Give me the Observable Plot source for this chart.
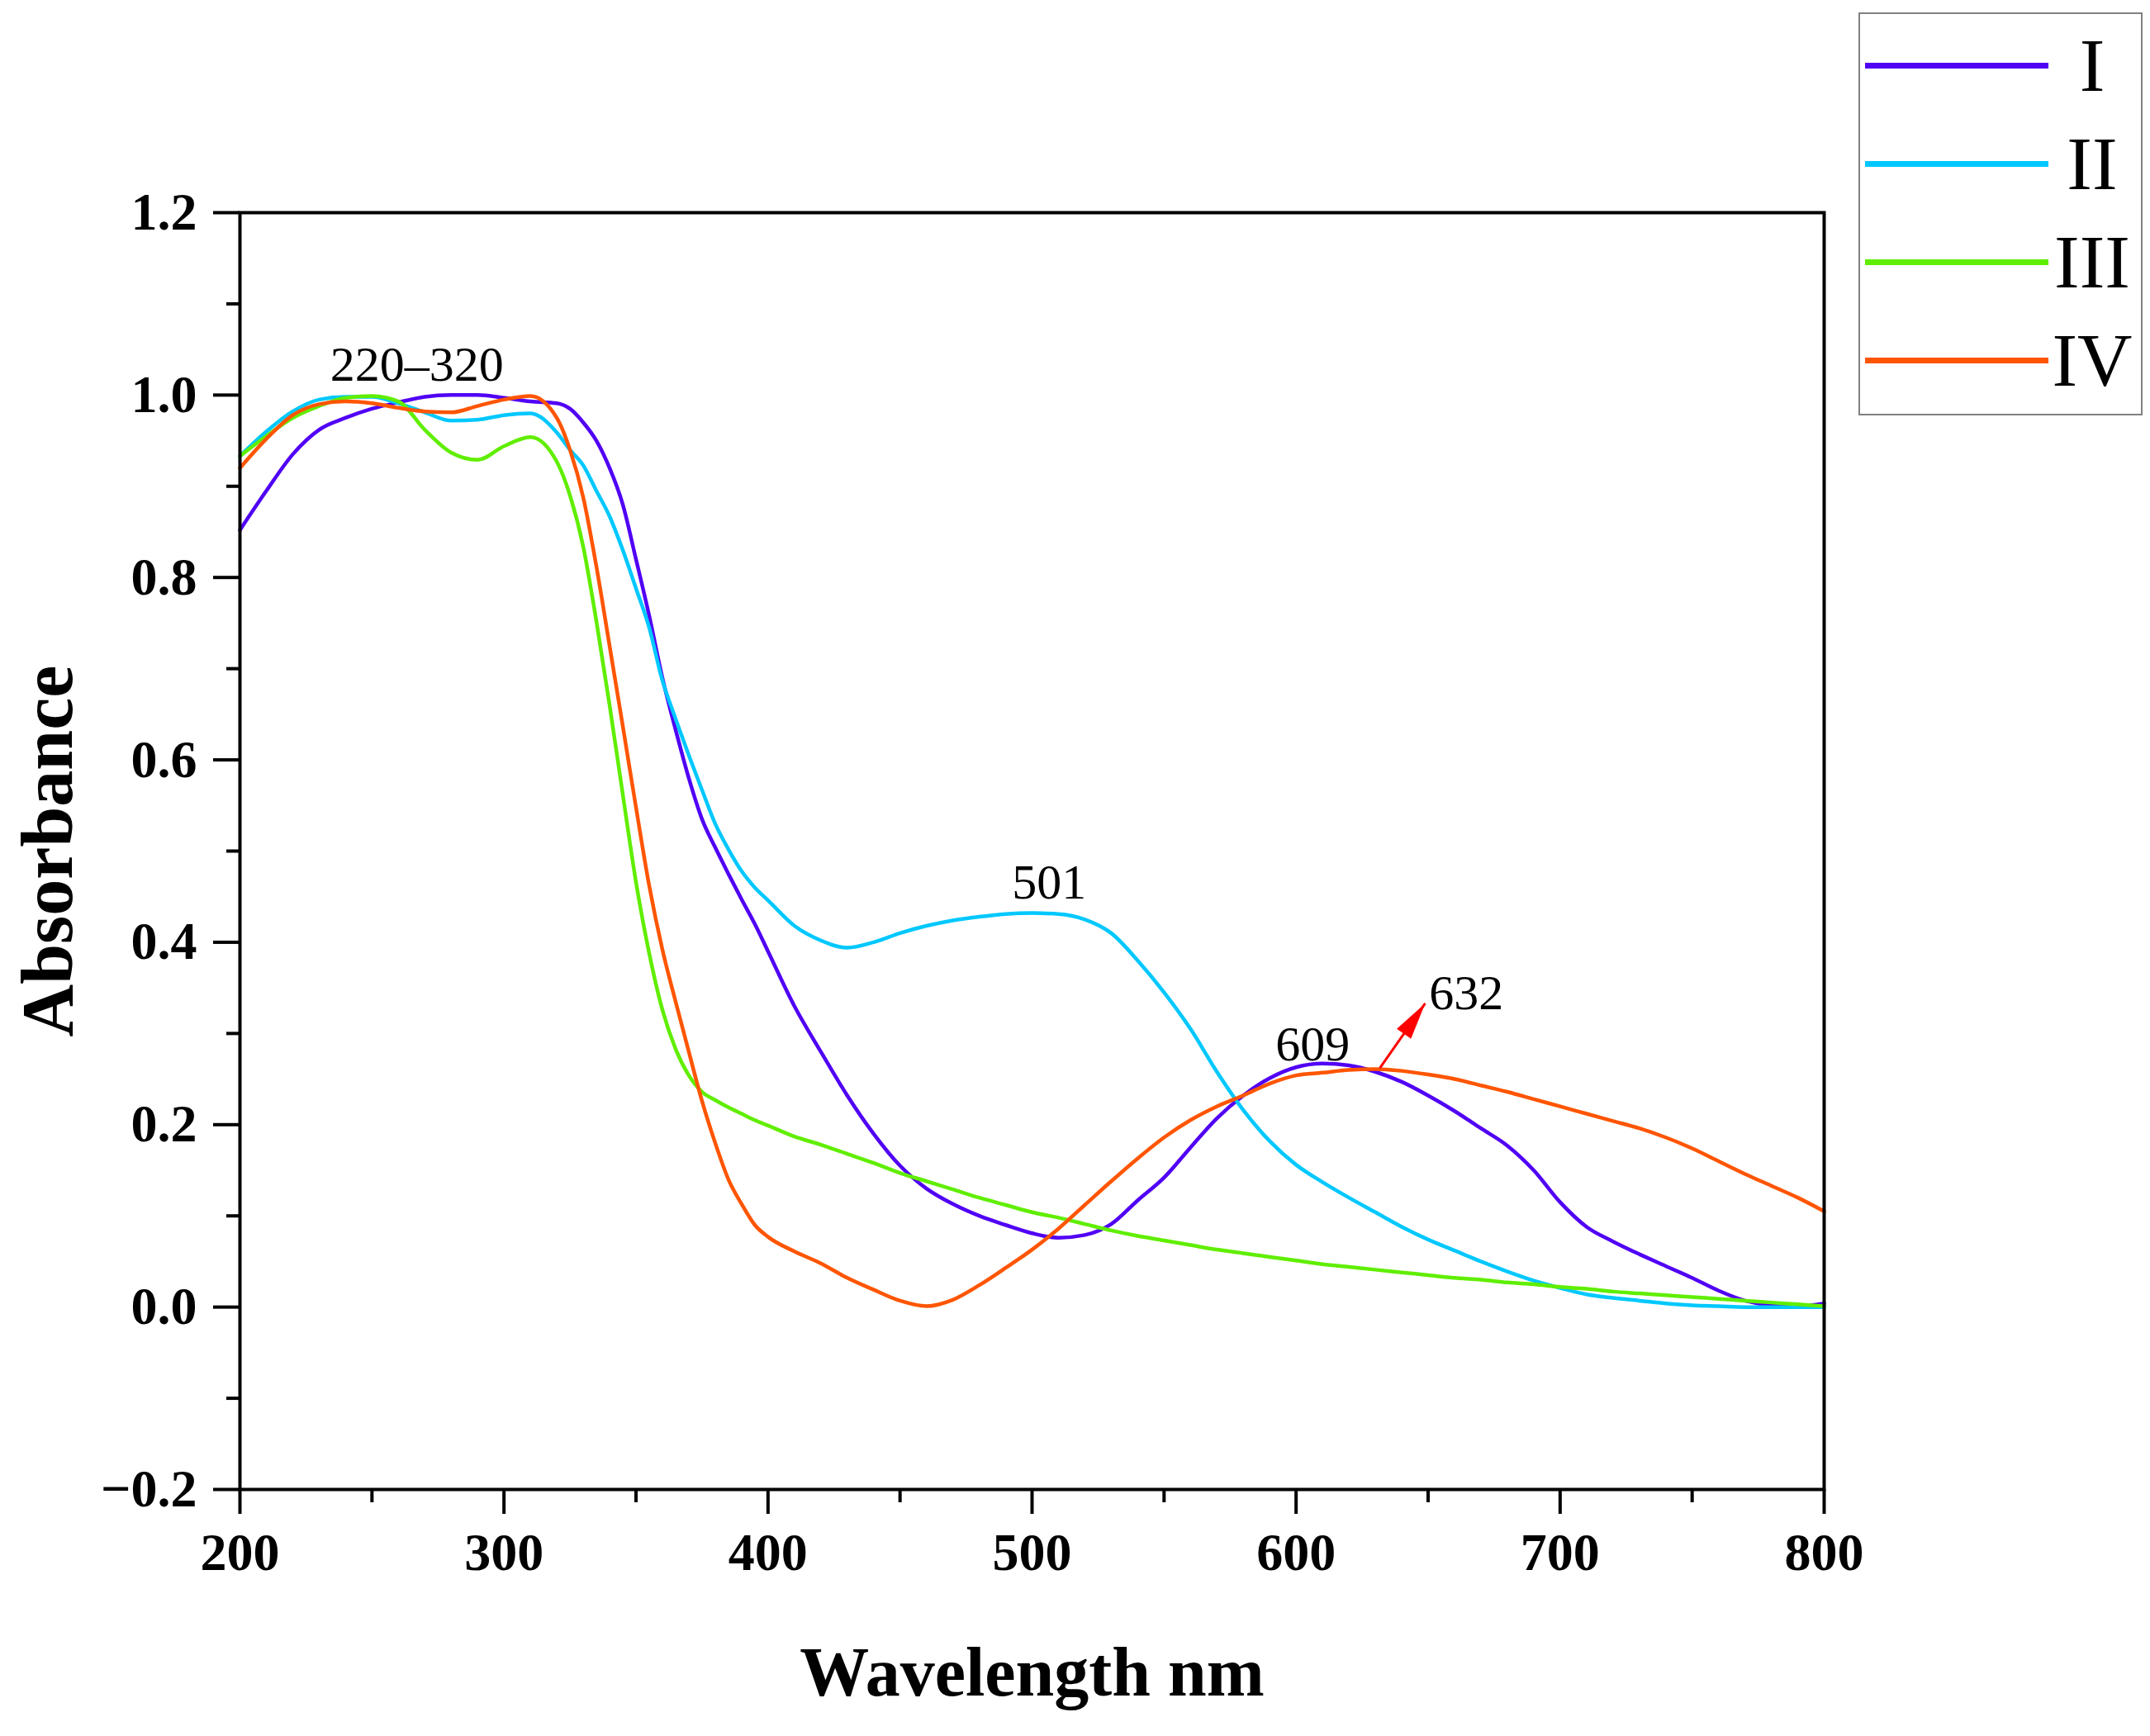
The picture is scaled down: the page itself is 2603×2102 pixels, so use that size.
<!DOCTYPE html>
<html>
<head>
<meta charset="utf-8">
<script src="https://cdn.jsdelivr.net/npm/d3@7"></script>
<script src="https://cdn.jsdelivr.net/npm/@observablehq/plot@0.6"></script>
<style>
  body { margin: 0; background: #fff; }
  #chart { position: relative; width: 2603px; height: 2102px; overflow: hidden; }
  .leg-swatches {
    position: absolute; left: 2250px; top: 15px;
    width: 334px; height: 481px; box-sizing: content-box;
    padding: 3px 0 0 6px; margin: 0;
    border: 2px solid #808080;
    font-family: "Liberation Serif", serif; font-size: 92px; color: #000;
  }
  .leg-swatch { height: 119px; line-height: 119px; padding-bottom: 0; }
  .leg-swatch > svg { margin-right: 0; }
  .leg-swatch-label { width: 106px; text-align: center; }
</style>
</head>
<body>
<div id="chart"></div>
<script>
// wavelength grid (nm), finer where the edges drop
const wavelength = [200,210,220,230,240,250,260,270,280,290,300,310,320,
  325,330,335,340,345,350,355,360,365,370,375,380,385,390,395,400,
  410,420,430,440,450,460,470,480,490,500,510,520,530,540,550,560,570,580,590,600,
  610,620,630,640,650,660,670,680,690,700,710,720,730,740,750,760,770,780,790,800];

const absI = [0.852,0.895,0.935,0.962,0.975,0.985,0.992,0.998,1.0,1.0,0.997,0.993,0.991,
  0.985,0.97,0.95,0.92,0.88,0.82,0.758,0.69,0.633,0.58,0.535,0.504,0.475,0.447,0.42,0.39,
  0.33,0.28,0.232,0.19,0.155,0.13,0.113,0.1,0.09,0.081,
  0.076,0.079,0.091,0.117,0.142,0.175,0.207,0.232,0.251,0.263,
  0.267,0.265,0.258,0.247,0.232,0.215,0.196,0.177,0.15,0.115,
  0.088,0.072,0.058,0.045,0.032,0.018,0.007,0.002,0.001,0.004];

const absII = [0.933,0.96,0.982,0.995,0.998,0.998,0.991,0.981,0.972,0.973,0.978,0.98,0.959,
  0.94,0.923,0.895,0.867,0.83,0.788,0.745,0.687,0.645,0.605,0.567,0.53,0.502,0.478,0.46,0.446,
  0.418,0.402,0.394,0.40,0.41,0.418,0.424,0.428,0.431,0.432,
  0.431,0.425,0.41,0.38,0.345,0.305,0.258,0.216,0.182,0.156,
  0.137,0.12,0.104,0.088,0.074,0.062,0.05,0.039,0.029,0.021,
  0.014,0.01,0.007,0.004,0.002,0.001,0.0,0.0,0.0,0.0];

const absIII = [0.933,0.955,0.975,0.988,0.997,0.999,0.993,0.962,0.937,0.929,0.944,0.954,0.927,
  0.89,0.834,0.752,0.66,0.562,0.466,0.388,0.326,0.283,0.254,0.236,0.227,0.219,0.212,0.205,0.199,
  0.187,0.178,0.168,0.158,0.147,0.138,0.129,0.12,0.112,0.104,
  0.098,0.091,0.084,0.078,0.073,0.068,0.063,0.059,0.055,0.051,
  0.047,0.044,0.041,0.038,0.035,0.032,0.03,0.027,0.025,0.022,
  0.02,0.017,0.015,0.013,0.011,0.009,0.007,0.005,0.003,0.001];

const absIV = [0.92,0.952,0.978,0.99,0.993,0.991,0.986,0.982,0.981,0.988,0.995,0.999,0.975,
  0.94,0.888,0.812,0.725,0.637,0.548,0.462,0.392,0.335,0.28,0.226,0.18,0.14,0.113,0.09,0.077,
  0.061,0.048,0.032,0.019,0.007,0.001,0.008,0.024,0.043,0.063,
  0.086,0.112,0.138,0.163,0.186,0.205,0.22,0.232,0.245,0.254,
  0.257,0.26,0.261,0.259,0.255,0.25,0.243,0.236,0.228,0.22,
  0.212,0.204,0.196,0.186,0.174,0.16,0.146,0.133,0.12,0.105];

const samples = ["I", "II", "III", "IV"];
const colours = ["#5000f5", "#00c8ff", "#60ee00", "#ff5500"];

// peak labels
const peakText = ["220\u2013320", "501", "609", "632"];
const peakX = [267, 506.5, 606.3, 664.5];
const peakY = [1.016, 0.448, 0.270, 0.327];

// red pointer for the 632 peak
const pointer = [{x1: 631.7, y1: 0.262, x2: 648.9, y2: 0.333}];

const yMajor = [-0.2, 0, 0.2, 0.4, 0.6, 0.8, 1.0, 1.2];
const yMinor = [-0.1, 0.1, 0.3, 0.5, 0.7, 0.9, 1.1];
const xMajor = [200, 300, 400, 500, 600, 700, 800];
const xMinor = [250, 350, 450, 550, 650, 750];

const series = [absI, absII, absIII, absIV];
const rows = samples.flatMap((s, k) =>
  wavelength.map((w, i) => ({sample: s, wavelength: w, absorbance: series[k][i]})));

// slim filled arrow head, tip at the origin pointing up
const arrowHead = {
  draw(context) {
    context.moveTo(0, 0);
    context.lineTo(-10.5, 45);
    context.lineTo(10.5, 45);
    context.closePath();
  }
};

const font = "Liberation Serif";

const plot = Plot.plot({
  width: 2603,
  height: 2102,
  marginLeft: 290,
  marginRight: 395,
  marginTop: 257,
  marginBottom: 299,
  style: {fontFamily: font, background: "#fff", color: "#000", overflow: "visible"},
  x: {domain: [200, 800]},
  y: {domain: [-0.2, 1.2]},
  color: {domain: samples, range: colours},
  marks: [
    Plot.axisY(yMinor, {tickSize: 16, strokeWidth: 4, tickFormat: () => "", label: null}),
    Plot.axisY(yMajor, {tickSize: 32, strokeWidth: 4, tickPadding: 20, fontSize: 64,
      fontWeight: "bold", tickFormat: d3.format(".1f"), label: null}),
    Plot.axisX(xMinor, {tickSize: 16, strokeWidth: 4, tickFormat: () => "", label: null}),
    Plot.axisX(xMajor, {tickSize: 30, strokeWidth: 4, tickPadding: 22, fontSize: 64,
      fontWeight: "bold", label: null}),
    Plot.line(rows, {x: "wavelength", y: "absorbance", stroke: "sample", z: "sample",
      strokeWidth: 4.5, curve: "monotone-x"}),
    Plot.frame({stroke: "#000", strokeWidth: 4}),
    Plot.text(peakText, {x: (d, i) => peakX[i], y: (d, i) => peakY[i], text: d => d,
      fontSize: 60, lineAnchor: "bottom", fill: "#000"}),
    Plot.link(pointer, {x1: "x1", y1: "y1", x2: "x2", y2: "y2", stroke: "#ff0000", strokeWidth: 3}),
    Plot.dot(pointer, {x: "x2", y: "y2", symbol: arrowHead, rotate: 35, fill: "#ff0000", stroke: null}),
    Plot.text(["Absorbance"], {frameAnchor: "left", dx: -232, rotate: -90, textAnchor: "middle",
      fontSize: 88, fontWeight: "bold", fill: "#000"}),
    Plot.text(["Wavelength nm"], {frameAnchor: "bottom", dy: 249, lineAnchor: "bottom",
      fontSize: 84, fontWeight: "bold", fill: "#000"})
  ]
});

const legend = plot.legend("color", {
  legend: "swatches",
  columns: 1,
  swatchWidth: 222,
  swatchHeight: 7,
  className: "leg"
});

const chart = document.getElementById("chart");
chart.appendChild(plot);
chart.appendChild(legend);
</script>
</body>
</html>
